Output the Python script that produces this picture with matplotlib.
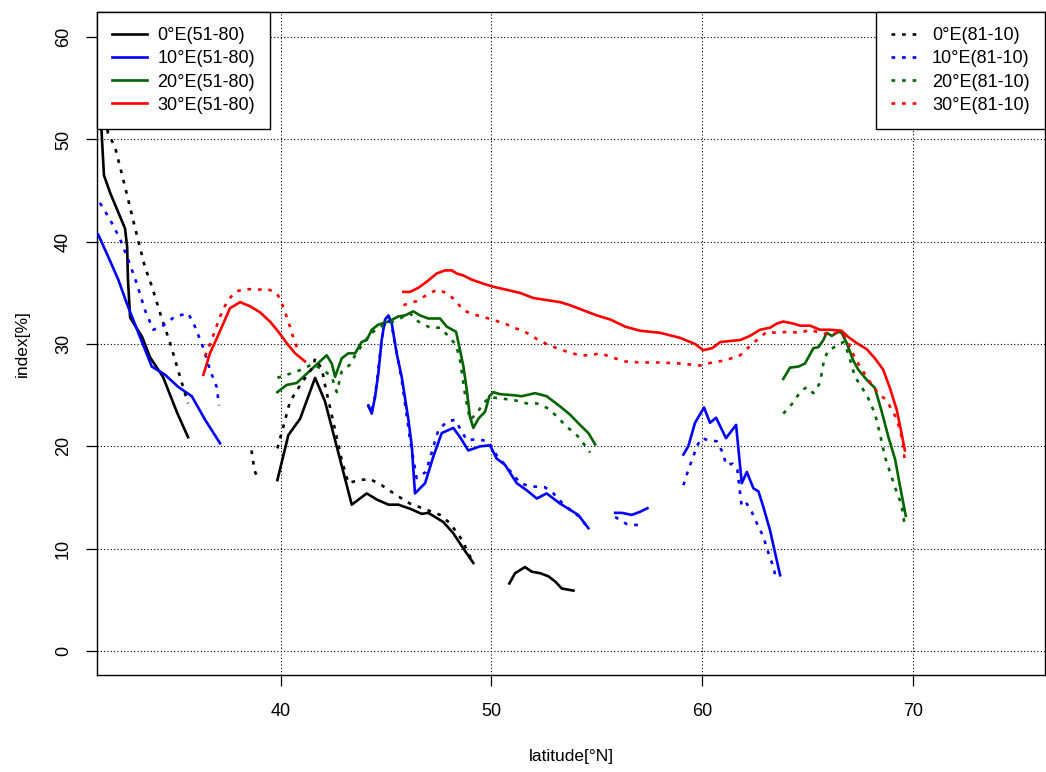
import matplotlib
matplotlib.use("Agg")
import matplotlib.pyplot as plt
from matplotlib.lines import Line2D

# ---------------- data (latitude [°N], index [%]) ----------------
# 0°E (51-80) solid
k_s1_x = [31.45, 31.5, 31.62, 31.91, 32.62, 32.72, 32.76, 32.86, 33.43, 33.81, 34.42, 35.09, 35.61]
k_s1_y = [54.0, 51.0, 46.5, 44.8, 41.3, 39.5, 36.3, 32.6, 30.7, 28.7, 26.8, 23.3, 20.9]
k_s2_x = [39.85, 40.37, 40.93, 41.64, 42.11, 42.59, 43.38, 44.09, 44.57, 45.12, 45.59, 46.15, 46.7, 47.01, 47.73, 48.2, 48.68, 49.15]
k_s2_y = [16.7, 21.1, 22.7, 26.7, 24.4, 20.6, 14.3, 15.4, 14.8, 14.3, 14.3, 13.9, 13.4, 13.5, 12.6, 11.5, 10.0, 8.6]
k_s3_x = [50.86, 51.13, 51.6, 51.92, 52.32, 52.71, 53.03, 53.35, 53.9]
k_s3_y = [6.6, 7.6, 8.2, 7.75, 7.6, 7.3, 6.8, 6.1, 5.9]
# 0°E (81-10) dotted
k_d1_x = [31.7, 31.81, 32.14, 32.62, 33.09, 33.57, 33.9, 34.38, 34.76, 35.23, 35.61]
k_d1_y = [53.0, 50.6, 49.3, 45.4, 41.4, 37.5, 35.6, 32.4, 30.1, 26.8, 24.2]
k_d2_x = [38.62, 38.7, 38.75, 38.9]
k_d2_y = [19.6, 18.6, 17.7, 17.0]
k_d3_x = [39.85, 40.13, 40.45, 41.0, 41.56, 41.64, 41.96, 42.11, 42.59, 42.9, 43.22, 43.69, 44.25, 44.8, 45.52, 46.15, 46.94, 47.57, 48.04, 48.6, 49.07]
k_d3_y = [19.8, 21.9, 24.4, 26.2, 27.8, 28.6, 27.6, 26.0, 21.6, 18.7, 16.4, 16.7, 16.8, 16.2, 15.2, 14.4, 13.8, 13.3, 12.5, 10.9, 8.9]

# 10°E (51-80) solid
b_s1_x = [31.35, 31.83, 32.3, 32.7, 33.25, 33.89, 34.52, 35.15, 35.79, 36.42, 37.13]
b_s1_y = [40.7, 38.5, 36.3, 34.0, 31.1, 27.8, 27.0, 25.8, 24.9, 22.6, 20.3]
b_s2_x = [44.17, 44.33, 44.49, 44.64, 44.8, 44.96, 45.12, 45.28, 45.51, 45.75, 46.07, 46.23, 46.38, 46.86, 47.25, 47.65, 48.2, 48.52, 48.91, 49.47, 49.94, 50.26, 50.65, 51.21, 51.69, 52.16, 52.63, 53.27, 53.74, 54.13, 54.61]
b_s2_y = [24.0, 23.2, 24.9, 27.1, 30.4, 32.4, 32.8, 32.0, 29.1, 26.8, 22.6, 20.0, 15.4, 16.4, 19.0, 21.3, 21.8, 20.9, 19.6, 20.0, 20.1, 18.8, 18.2, 16.4, 15.7, 14.9, 15.4, 14.4, 13.8, 13.3, 12.0]
b_s3_x = [55.88, 56.19, 56.67, 57.06, 57.41]
b_s3_y = [13.5, 13.5, 13.3, 13.6, 13.95]
b_s4_x = [59.12, 59.35, 59.67, 60.1, 60.38, 60.67, 61.14, 61.62, 61.78, 61.89, 62.13, 62.44, 62.68, 62.91, 63.23, 63.71]
b_s4_y = [19.2, 20.0, 22.3, 23.8, 22.3, 22.8, 20.8, 22.1, 18.7, 16.4, 17.5, 15.9, 15.6, 14.1, 11.8, 7.4]
# 10°E (81-10) dotted
b_d1_x = [31.43, 31.9, 32.38, 32.78, 33.18, 33.57, 33.96, 34.36, 34.99, 35.62, 35.94, 36.34, 36.65, 36.97, 37.08]
b_d1_y = [43.8, 42.2, 40.3, 38.2, 35.9, 33.3, 31.4, 31.7, 32.7, 33.0, 31.7, 29.6, 27.5, 25.8, 24.0]
b_d2_x = [44.16, 44.3, 44.49, 44.8, 44.96, 45.12, 45.28, 45.75, 46.15, 46.46, 46.9, 47.49, 47.89, 48.28, 48.84, 49.31, 49.86, 50.26, 50.65, 51.37, 51.84, 52.55, 52.95, 53.35, 53.74, 54.13, 54.61]
b_d2_y = [24.0, 23.3, 24.9, 30.4, 32.2, 32.5, 31.8, 26.5, 20.6, 16.9, 17.5, 21.6, 22.4, 22.6, 20.6, 20.7, 20.5, 19.1, 18.2, 16.4, 16.1, 16.0, 15.4, 14.5, 13.8, 13.2, 12.0]
b_d3_x = [55.88, 56.43, 56.98]
b_d3_y = [13.1, 12.4, 12.3]
b_d4_x = [59.12, 59.35, 59.59, 59.75, 59.99, 60.3, 60.7, 61.01, 61.14, 61.46, 61.68, 61.81, 61.89, 62.13, 62.36, 62.6, 62.91, 63.15, 63.39, 63.52]
b_d4_y = [16.2, 17.7, 19.0, 20.0, 20.8, 20.6, 20.5, 19.3, 18.2, 18.3, 17.7, 15.4, 14.1, 14.4, 13.6, 12.5, 11.2, 9.6, 8.2, 7.0]

# 20°E (51-80) solid
g_s1_x = [39.85, 40.29, 40.77, 41.24, 41.87, 42.19, 42.43, 42.59, 42.9, 43.22, 43.54, 43.85, 44.09, 44.33, 44.64, 45.12, 45.59, 45.91, 46.3, 46.62, 47.01, 47.57, 47.89, 48.33, 48.52, 48.68, 48.84, 48.99, 49.15, 49.39, 49.71, 49.91, 50.1, 50.42, 51.05, 51.45, 52.08, 52.63, 53.27, 53.74, 54.21, 54.61, 54.93]
g_s1_y = [25.3, 26.0, 26.2, 27.1, 28.3, 28.9, 28.1, 26.8, 28.6, 29.1, 29.1, 30.2, 30.4, 31.4, 31.9, 32.2, 32.7, 32.8, 33.2, 32.8, 32.5, 32.5, 31.7, 31.2, 29.4, 27.8, 25.5, 22.9, 21.8, 22.7, 23.4, 24.9, 25.3, 25.1, 25.0, 24.9, 25.2, 24.9, 23.9, 23.1, 22.1, 21.3, 20.2]
g_s2_x = [63.86, 64.18, 64.58, 64.89, 65.29, 65.53, 65.76, 65.92, 66.16, 66.47, 66.63, 66.87, 67.18, 67.42, 67.82, 68.21, 68.53, 68.85, 69.17, 69.4, 69.56, 69.67]
g_s2_y = [26.6, 27.7, 27.8, 28.1, 29.6, 29.7, 30.4, 31.1, 30.8, 31.2, 31.1, 30.1, 28.4, 27.5, 26.5, 25.7, 23.4, 20.9, 18.7, 16.1, 14.4, 13.2]
# 20°E (81-10) dotted
g_d1_x = [39.85, 40.45, 41.0, 41.48, 41.96, 42.43, 42.67, 42.9, 43.3, 43.54, 43.93, 44.33, 44.72, 45.12, 45.67, 46.15, 46.54, 47.1, 47.57, 47.96, 48.33, 48.52, 48.76, 48.99, 49.31, 49.62, 49.94, 50.42, 51.13, 51.68, 52.16, 52.71, 53.18, 53.58, 53.98, 54.3, 54.69]
g_d1_y = [26.7, 27.1, 27.5, 28.0, 27.6, 26.8, 25.3, 27.3, 28.0, 28.9, 30.1, 31.1, 31.7, 32.0, 32.5, 33.0, 32.2, 31.6, 31.6, 30.8, 29.9, 28.4, 25.0, 22.6, 23.2, 24.2, 24.8, 24.7, 24.5, 24.2, 24.2, 23.7, 22.8, 21.9, 21.3, 20.5, 19.4]
g_d2_x = [63.86, 64.34, 64.65, 64.97, 65.29, 65.6, 65.79, 65.99, 66.39, 66.71, 66.94, 67.26, 67.58, 67.89, 68.21, 68.44, 68.68, 69.0, 69.23, 69.47, 69.63]
g_d2_y = [23.2, 24.3, 25.3, 25.8, 25.2, 26.2, 28.4, 29.4, 29.8, 30.2, 29.1, 26.8, 25.8, 24.7, 23.2, 21.3, 19.0, 17.0, 15.6, 14.3, 12.2]

# 30°E (51-80) solid
r_s1_x = [36.34, 36.65, 37.05, 37.6, 38.08, 38.55, 39.03, 39.5, 39.9, 40.29, 40.69, 41.16]
r_s1_y = [27.0, 29.1, 30.9, 33.5, 34.1, 33.7, 33.1, 32.2, 31.2, 30.1, 29.1, 28.3]
r_s2_x = [45.83, 46.15, 46.54, 46.94, 47.41, 47.81, 48.13, 48.36, 48.68, 49.07, 49.63, 50.1, 50.74, 51.37, 52.0, 52.63, 53.27, 53.74, 54.37, 55.01, 55.65, 56.36, 57.07, 58.02, 58.97, 59.68, 60.06, 60.49, 60.87, 61.82, 62.28, 62.76, 63.23, 63.55, 63.86, 64.34, 64.65, 65.13, 65.6, 66.08, 66.63, 66.94, 67.34, 67.82, 68.21, 68.6, 68.92, 69.24, 69.47, 69.63]
r_s2_y = [35.1, 35.1, 35.5, 36.1, 36.9, 37.2, 37.2, 36.9, 36.7, 36.3, 35.9, 35.6, 35.3, 35.0, 34.5, 34.3, 34.1, 33.8, 33.3, 32.8, 32.4, 31.7, 31.3, 31.1, 30.6, 30.0, 29.4, 29.6, 30.2, 30.4, 30.8, 31.4, 31.6, 32.0, 32.2, 32.0, 31.8, 31.8, 31.4, 31.4, 31.3, 30.7, 30.1, 29.5, 28.6, 27.5, 25.7, 23.6, 21.3, 19.6]
# 30°E (81-10) dotted
r_d1_x = [36.42, 36.73, 37.13, 37.45, 37.84, 38.32, 38.87, 39.35, 39.82, 40.06, 40.37, 40.61, 40.84]
r_d1_y = [28.8, 30.4, 32.7, 34.1, 35.1, 35.4, 35.3, 35.4, 35.0, 34.0, 32.2, 30.6, 29.3]
r_d2_x = [45.83, 46.46, 46.94, 47.41, 47.89, 48.28, 48.68, 49.15, 49.71, 50.18, 50.65, 51.21, 51.68, 52.16, 52.63, 53.11, 53.66, 54.21, 54.69, 55.17, 55.73, 56.36, 57.07, 58.02, 58.97, 59.92, 60.48, 61.1, 61.81, 62.38, 63.08, 63.55, 64.1, 64.65, 65.13, 65.6, 66.08, 66.55, 66.87, 67.1, 67.5, 67.97, 68.36, 68.76, 69.24, 69.53, 69.64]
r_d2_y = [33.8, 34.2, 34.8, 35.3, 35.0, 34.3, 33.3, 32.9, 32.6, 32.3, 32.0, 31.5, 31.1, 30.5, 30.0, 29.6, 29.2, 28.9, 28.9, 29.1, 28.7, 28.3, 28.2, 28.2, 28.1, 27.9, 28.2, 28.4, 28.9, 30.0, 31.2, 31.1, 31.2, 31.1, 31.4, 31.1, 30.9, 31.2, 30.6, 29.3, 27.8, 26.3, 25.2, 24.5, 22.7, 20.5, 18.3]

labels_solid = ["0°E(51-80)", "10°E(51-80)", "20°E(51-80)", "30°E(51-80)"]
labels_dot = ["0°E(81-10)", "10°E(81-10)", "20°E(81-10)", "30°E(81-10)"]
colors = ["#000000", "#0000FF", "#006400", "#FF0000"]
x_ticks = [40, 50, 60, 70]
y_ticks = [0, 10, 20, 30, 40, 50, 60]

# ---------------- plotting ----------------
plt.rcParams['font.family'] = ['Liberation Sans', 'DejaVu Sans']
fig = plt.figure(figsize=(10.46, 7.72), dpi=100)
ax = fig.add_axes([97/1046, 97/772, (1045-97)/1046, (675-12)/772])

LW = 1.9
DOT = (0, (1.4, 2.6))

solid_sets = [
    [(k_s1_x, k_s1_y), (k_s2_x, k_s2_y), (k_s3_x, k_s3_y)],
    [(b_s1_x, b_s1_y), (b_s2_x, b_s2_y), (b_s3_x, b_s3_y), (b_s4_x, b_s4_y)],
    [(g_s1_x, g_s1_y), (g_s2_x, g_s2_y)],
    [(r_s1_x, r_s1_y), (r_s2_x, r_s2_y)],
]
dot_sets = [
    [(k_d1_x, k_d1_y), (k_d2_x, k_d2_y), (k_d3_x, k_d3_y)],
    [(b_d1_x, b_d1_y), (b_d2_x, b_d2_y), (b_d3_x, b_d3_y), (b_d4_x, b_d4_y)],
    [(g_d1_x, g_d1_y), (g_d2_x, g_d2_y)],
    [(r_d1_x, r_d1_y), (r_d2_x, r_d2_y)],
]

for segs, c in zip(solid_sets, colors):
    for xs, ys in segs:
        ax.plot(xs, ys, color=c, lw=LW, solid_joinstyle='round', zorder=3)
for segs, c in zip(dot_sets, colors):
    for xs, ys in segs:
        ax.plot(xs, ys, color=c, lw=LW, linestyle=DOT, dash_capstyle='butt', zorder=3)

ax.set_xlim(31.29, 76.28)
ax.set_ylim(-2.35, 62.46)
ax.set_xticks(x_ticks)
ax.set_yticks(y_ticks)
ax.grid(True, color='black', linestyle=(0, (1, 2)), linewidth=0.8)
ax.set_axisbelow(True)

for s in ax.spines.values():
    s.set_linewidth(1.0)
    s.set_color('black')

ax.tick_params(axis='both', direction='out', length=8, width=0.9, labelsize=13, colors='black')
ax.tick_params(axis='x', pad=12)
ax.tick_params(axis='y', pad=10)
for lab in ax.get_yticklabels():
    lab.set_rotation(90)
    lab.set_va('center')

ax.set_xlabel("latitude[°N]", fontsize=12.5, labelpad=21)
ax.set_ylabel("index[%]", fontsize=12.5, labelpad=18)

h1 = [Line2D([], [], color=c, lw=LW) for c in colors]
h2 = [Line2D([], [], color=c, lw=LW, linestyle=DOT, dash_capstyle='butt') for c in colors]
leg1 = ax.legend(h1, labels_solid, loc='upper left', fontsize=13, frameon=True, fancybox=False,
                 edgecolor='black', framealpha=1, borderaxespad=0, handlelength=1.9,
                 handletextpad=0.6, labelspacing=0.34, borderpad=0.85)
leg1.get_frame().set_linewidth(1.0)
leg1.set_zorder(5)
ax.add_artist(leg1)
leg2 = ax.legend(h2, labels_dot, loc='upper right', fontsize=13, frameon=True, fancybox=False,
                 edgecolor='black', framealpha=1, borderaxespad=0, handlelength=1.4,
                 handletextpad=0.85, labelspacing=0.34, borderpad=0.85)
leg2.get_frame().set_linewidth(1.0)
leg2.set_zorder(5)

fig.savefig("out.png", dpi=100)
